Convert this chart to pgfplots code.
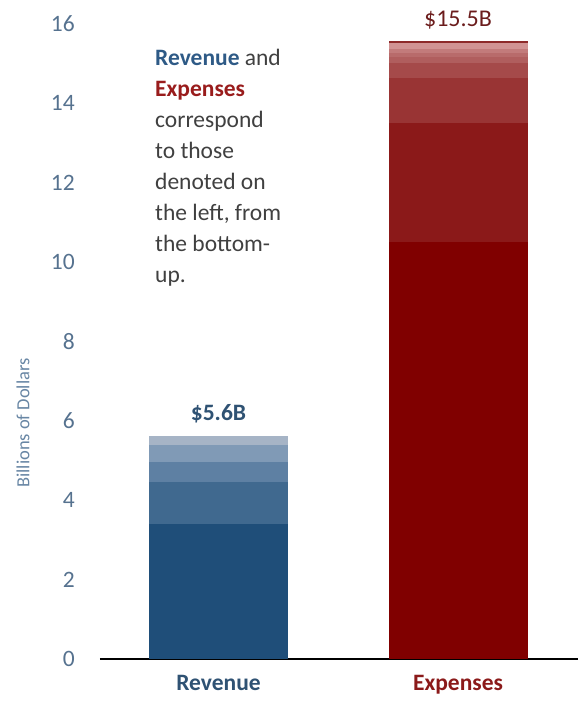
\documentclass[border=0pt]{standalone}
\usepackage{pgfplots}
\pgfplotsset{compat=1.18}
\usepackage{fontspec}
\setmainfont{Carlito}
\definecolor{rA}{HTML}{1F4E79}
\definecolor{rB}{HTML}{40698F}
\definecolor{rC}{HTML}{5E80A3}
\definecolor{rD}{HTML}{809AB6}
\definecolor{rE}{HTML}{A6B4C6}
\definecolor{eA}{HTML}{800000}
\definecolor{eB}{HTML}{8B1919}
\definecolor{eC}{HTML}{993434}
\definecolor{eD}{HTML}{A54A4A}
\definecolor{eE}{HTML}{B05E5E}
\definecolor{eF}{HTML}{B86B6B}
\definecolor{eG}{HTML}{C27B7B}
\definecolor{eH}{HTML}{D29494}
\definecolor{eI}{HTML}{8E2A2A}
\definecolor{tickc}{HTML}{56728F}
\definecolor{ylabc}{HTML}{6886A4}
\definecolor{revc}{HTML}{2F5273}
\definecolor{expc}{HTML}{8B1A1A}
\definecolor{exptop}{HTML}{6B1C1C}
\definecolor{notec}{HTML}{404040}
\definecolor{noterev}{HTML}{2E5A86}
\definecolor{noteexp}{HTML}{991C1C}
\begin{document}
\begin{tikzpicture}
\begin{axis}[
  at={(0,0)}, anchor=south west,
  scale only axis, width=478pt, height=635pt,
  xmin=-0.4948, xmax=1.501, ymin=0, ymax=16,
  ybar stacked, bar width=139pt,
  xtick={0,1},
  xticklabels={\textcolor{revc}{Revenue},\textcolor{expc}{Expenses}},
  ytick={0,2,...,16},
  axis x line=bottom, axis y line=left,
  x axis line style={-, black, line width=1.3pt},
  y axis line style={draw=none},
  major tick length=0,
  yticklabel style={color=tickc, anchor=east, inner sep=0pt, xshift=-25pt, font=\fontsize{23.5}{27}\selectfont},
  xticklabel style={anchor=base, inner sep=0pt, yshift=-31pt, font=\fontsize{23.5}{27}\selectfont\bfseries},
  /pgf/number format/assume math mode=true,
  clip=false,
  ylabel={Billions of Dollars},
  ylabel style={at={(axis description cs:-0.1611,0.3717)}, anchor=center, font=\fontsize{18.5}{22}\selectfont, color=ylabc},
]
\addplot[fill=rA, draw=none] coordinates {(0,3.41) (1,0)};
\addplot[fill=rB, draw=none] coordinates {(0,1.06) (1,0)};
\addplot[fill=rC, draw=none] coordinates {(0,0.50) (1,0)};
\addplot[fill=rD, draw=none] coordinates {(0,0.41) (1,0)};
\addplot[fill=rE, draw=none] coordinates {(0,0.23) (1,0)};
\addplot[fill=eA, draw=none] coordinates {(0,0) (1,10.51)};
\addplot[fill=eB, draw=none] coordinates {(0,0) (1,3.00)};
\addplot[fill=eC, draw=none] coordinates {(0,0) (1,1.12)};
\addplot[fill=eD, draw=none] coordinates {(0,0) (1,0.39)};
\addplot[fill=eE, draw=none] coordinates {(0,0) (1,0.14)};
\addplot[fill=eF, draw=none] coordinates {(0,0) (1,0.10)};
\addplot[fill=eG, draw=none] coordinates {(0,0) (1,0.10)};
\addplot[fill=eH, draw=none] coordinates {(0,0) (1,0.16)};
\addplot[fill=eI, draw=none] coordinates {(0,0) (1,0.05)};
\node[font=\fontsize{23.5}{27}\selectfont\bfseries, color=revc] at (axis cs:0,6.17) {\$5.6B};
\node[font=\fontsize{24}{27}\selectfont, color=exptop] at (axis cs:1,16.1) {\$15.5B};
\end{axis}
\begin{scope}[every node/.style={anchor=base west, inner sep=0pt, font=\fontsize{23.5}{31}\selectfont, color=notec}]
\node at (55pt,593pt) {\textcolor{noterev}{\bfseries Revenue} and};
\node at (55pt,562.1pt) {\textcolor{noteexp}{\bfseries Expenses}};
\node at (55pt,531.2pt) {correspond};
\node at (55pt,500.3pt) {to those};
\node at (55pt,469.4pt) {denoted on};
\node at (55pt,438.5pt) {the left, from};
\node at (55pt,407.6pt) {the bottom-};
\node at (55pt,376.7pt) {up.};
\end{scope}
\pgfresetboundingbox
\path[use as bounding box] (-100pt,-48pt) rectangle (486pt,659pt);
\end{tikzpicture}
\end{document}
